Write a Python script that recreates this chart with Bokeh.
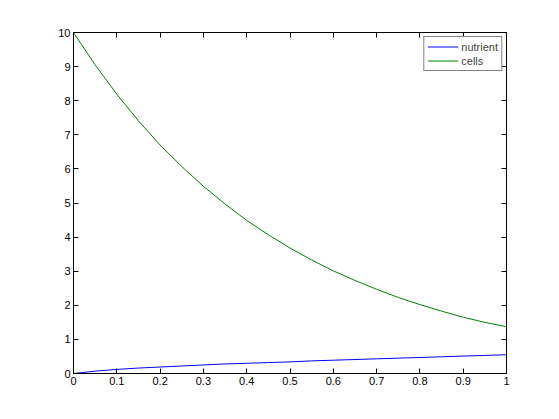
from bokeh.plotting import figure
from bokeh.models import LinearAxis, FixedTicker, Legend, LegendItem, Range1d, CustomJSTickFormatter
from bokeh.embed import file_html
from bokeh.resources import INLINE

# Data
t = [0.0, 0.05, 0.1, 0.15, 0.2, 0.25, 0.3, 0.35, 0.4, 0.45, 0.5,
     0.55, 0.6, 0.65, 0.7, 0.75, 0.8, 0.85, 0.9, 0.95, 1.0]
nutrient = [0.0, 0.07, 0.12, 0.16, 0.19, 0.22, 0.25, 0.28, 0.30, 0.32, 0.34,
            0.37, 0.39, 0.41, 0.43, 0.45, 0.47, 0.49, 0.51, 0.53, 0.55]
cells = [10.0, 9.05, 8.19, 7.41, 6.70, 6.07, 5.49, 4.97, 4.49, 4.07, 3.68,
         3.33, 3.01, 2.73, 2.47, 2.23, 2.02, 1.83, 1.65, 1.50, 1.37]

x_ticks = [0, 0.1, 0.2, 0.3, 0.4, 0.5, 0.6, 0.7, 0.8, 0.9, 1]
x_tick_labels = ["0", "0.1", "0.2", "0.3", "0.4", "0.5", "0.6", "0.7", "0.8", "0.9", "1"]
y_ticks = [0, 1, 2, 3, 4, 5, 6, 7, 8, 9, 10]
y_tick_labels = ["0", "1", "2", "3", "4", "5", "6", "7", "8", "9", "10"]

FONT = "Liberation Sans"

p = figure(width=543, height=403, output_backend="svg", toolbar_location=None,
           x_range=Range1d(0, 1), y_range=Range1d(0, 10),
           min_border_left=73, min_border_top=32, min_border_right=37, min_border_bottom=30,
           x_axis_location=None, y_axis_location=None)
p.background_fill_color = "white"
p.border_fill_color = "white"
p.outline_line_color = "black"
p.outline_line_width = 1
p.xgrid.visible = False
p.ygrid.visible = False

r1 = p.line(t, nutrient, line_color="#0000ff", line_width=1)
r2 = p.line(t, cells, line_color="#008000", line_width=1)

def style(ax, ticks, labels, show_labels):
    ax.ticker = FixedTicker(ticks=ticks)
    ax.major_tick_in = 5
    ax.major_tick_out = 0
    ax.minor_tick_line_color = None
    ax.axis_line_color = "black"
    ax.major_tick_line_color = "black"
    if show_labels:
        ax.major_label_overrides = {tk: lb for tk, lb in zip(ticks, labels)}
        ax.major_label_text_font = FONT
        ax.major_label_text_font_size = "11px"
        ax.major_label_text_color = "black"
        ax.major_label_standoff = 3
    else:
        ax.formatter = CustomJSTickFormatter(code="return '';")
        ax.major_label_standoff = 0

bx = LinearAxis(); style(bx, x_ticks, x_tick_labels, True); p.add_layout(bx, "below")
ly = LinearAxis(); style(ly, y_ticks, y_tick_labels, True); p.add_layout(ly, "left")
tx = LinearAxis(); style(tx, x_ticks, x_tick_labels, False); p.add_layout(tx, "above")
ry = LinearAxis(); style(ry, y_ticks, y_tick_labels, False); p.add_layout(ry, "right")

legend = Legend(items=[LegendItem(label="nutrient", renderers=[r1]),
                       LegendItem(label="cells", renderers=[r2])],
                location="top_right")
legend.margin = 4
legend.padding = 3
legend.spacing = 1
legend.glyph_width = 31
legend.glyph_height = 13
legend.label_height = 13
legend.label_standoff = 3
legend.label_text_font = FONT
legend.label_text_font_size = "11px"
legend.border_line_color = "black"
legend.border_line_width = 1
legend.background_fill_color = "white"
legend.background_fill_alpha = 1
p.add_layout(legend, "center")

open("out.html", "w").write(file_html(p, INLINE))
